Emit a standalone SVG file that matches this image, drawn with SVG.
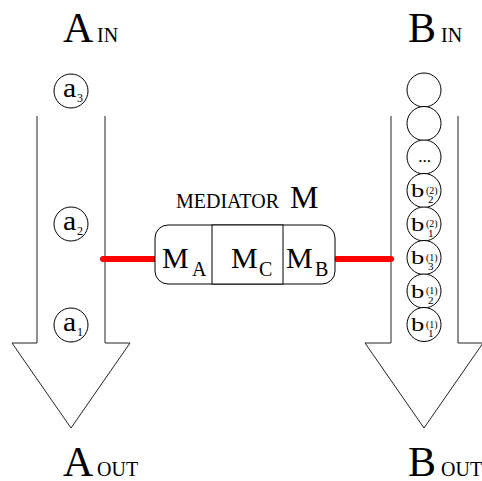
<svg xmlns="http://www.w3.org/2000/svg" width="482" height="481" viewBox="0 0 482 481">
<style>
.arrow { fill: #fff; stroke: #222; stroke-width: 1; }
.tok { fill: #fff; stroke: #000; stroke-width: 1; }
.red { stroke: #ff0000; stroke-width: 6; stroke-linecap: round; fill: none; }
.box { fill: #fff; stroke: #000; stroke-width: 1; }
.big { font-size: 42px; }
.sm { font-size: 20px; }
.lab { font-size: 27px; }
.sub { font-size: 12px; }
.sup { font-size: 10px; }
.bsub { font-size: 11px; }
</style>
<rect width="482" height="481" fill="#fff"/>
<g font-family="Liberation Serif" fill="#000">
<g id="streamA">
  <polyline class="arrow" points="37,116 37,343 12,343 71,428 130,343 105,343 105,116"/>
  <text class="big" x="63" y="42">A</text><text class="sm" x="97" y="42">IN</text>
  <text class="big" x="63" y="476">A</text><text class="sm" x="97" y="476">OUT</text>
</g>
<g id="streamB">
  <polyline class="arrow" points="391,116 391,343 365,343 424,428 483,343 458,343 458,116"/>
  <text class="big" x="408" y="42">B</text><text class="sm" x="441" y="42">IN</text>
  <text class="big" x="408" y="476">B</text><text class="sm" x="441" y="476">OUT</text>
</g>

<g id="a3"><circle class="tok" cx="71" cy="91" r="17"/><text class="lab" x="63" y="97" transform="translate(63 0) scale(1.1 1) translate(-63 0)">a</text><text class="sub" x="77" y="102">3</text></g>
<g id="a2"><circle class="tok" cx="71" cy="224" r="17"/><text class="lab" x="63" y="230" transform="translate(63 0) scale(1.1 1) translate(-63 0)">a</text><text class="sub" x="77" y="235">2</text></g>
<g id="a1"><circle class="tok" cx="71" cy="325" r="17"/><text class="lab" x="63" y="331" transform="translate(63 0) scale(1.1 1) translate(-63 0)">a</text><text class="sub" x="77" y="336">1</text></g>

<g id="bEmpty1"><circle class="tok" cx="424" cy="90" r="17"/></g>
<g id="bEmpty2"><circle class="tok" cx="424" cy="123.5" r="17"/></g>
<g id="bDots"><circle class="tok" cx="424" cy="157" r="17"/><text x="424.5" y="162" font-size="17" text-anchor="middle">...</text></g>

<g id="b22"><circle class="tok" cx="424" cy="190.5" r="17"/>
  <text x="411" y="197.5" font-size="19" transform="translate(411 0) scale(1.4 1) translate(-411 0)">b</text>
  <text class="sup" x="426" y="193.5">(2)</text><text class="bsub" x="428" y="203">2</text></g>
<g id="b12"><circle class="tok" cx="424" cy="224" r="17"/>
  <text x="411" y="231" font-size="19" transform="translate(411 0) scale(1.4 1) translate(-411 0)">b</text>
  <text class="sup" x="426" y="227">(2)</text><text class="bsub" x="428" y="236.5">1</text></g>
<g id="b31"><circle class="tok" cx="424" cy="257.5" r="17"/>
  <text x="411" y="264.5" font-size="19" transform="translate(411 0) scale(1.4 1) translate(-411 0)">b</text>
  <text class="sup" x="426" y="260.5">(1)</text><text class="bsub" x="428" y="270">3</text></g>
<g id="b21"><circle class="tok" cx="424" cy="291" r="17"/>
  <text x="411" y="298" font-size="19" transform="translate(411 0) scale(1.4 1) translate(-411 0)">b</text>
  <text class="sup" x="426" y="294">(1)</text><text class="bsub" x="428" y="303.5">2</text></g>
<g id="b11"><circle class="tok" cx="424" cy="324.5" r="17"/>
  <text x="411" y="331.5" font-size="19" transform="translate(411 0) scale(1.4 1) translate(-411 0)">b</text>
  <text class="sup" x="426" y="327.5">(1)</text><text class="bsub" x="428" y="337">1</text></g>

<g id="connectors">
  <line class="red" x1="103" y1="259" x2="156" y2="259"/>
  <line class="red" x1="337" y1="259" x2="391" y2="259"/>
</g>

<g id="mediator">
  <text class="sm" x="176" y="208">MEDIATOR</text>
  <text x="290" y="208" font-size="32">M</text>
  <rect class="box" x="155" y="225" width="180" height="59" rx="13"/>
  <rect class="box" x="212" y="225" width="71" height="59"/>
  <text x="162" y="268" font-size="30">M</text><text x="192" y="276" font-size="20">A</text>
  <text x="231" y="268" font-size="30">M</text><text x="259" y="276" font-size="20">C</text>
  <text x="286" y="268" font-size="30">M</text><text x="315" y="276" font-size="20">B</text>
</g>
</g>
</svg>
